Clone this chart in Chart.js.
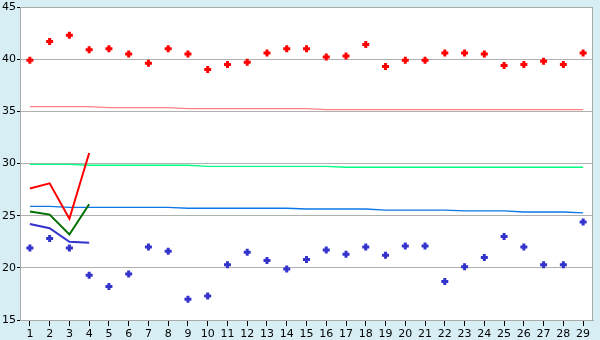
<!DOCTYPE html>
<html>
<head>
<meta charset="utf-8">
<script src="https://cdn.jsdelivr.net/npm/chart.js@4"></script>
<style>
  html, body { margin: 0; padding: 0; background: #d8eef5; }
  #wrap { width: 600px; height: 340px; }
</style>
</head>
<body>
<div id="wrap"><canvas id="chart" width="600" height="340"></canvas></div>
<script>
// categories
const days = ['1','2','3','4','5','6','7','8','9','10','11','12','13','14','15',
  '16','17','18','19','20','21','22','23','24','25','26','27','28','29'];

// daily highs / lows (markers)
const highs = [39.9, 41.7, 42.3, 40.9, 41.0, 40.5, 39.6, 41.0, 40.5, 39.0,
  39.5, 39.7, 40.6, 41.0, 41.0, 40.2, 40.3, 41.4, 39.3, 39.9,
  39.9, 40.6, 40.6, 40.5, 39.4, 39.5, 39.8, 39.5, 40.6];
const lows = [21.9, 22.8, 21.9, 19.3, 18.2, 19.4, 22.0, 21.6, 17.0, 17.3,
  20.3, 21.5, 20.7, 19.9, 20.8, 21.7, 21.3, 22.0, 21.2, 22.1,
  22.1, 18.7, 20.1, 21.0, 23.0, 22.0, 20.3, 20.3, 24.4];

// short lines, first four days only
const redLine = [27.6, 28.1, 24.7, 31.0];
const greenLine = [25.4, 25.1, 23.2, 26.1];
const blueLine = [24.2, 23.8, 22.5, 22.4];

// long flat reference lines
const pinkRef = [35.45, 35.45, 35.45, 35.45, 35.35, 35.35, 35.35, 35.35, 35.26, 35.26,
  35.26, 35.26, 35.26, 35.26, 35.26, 35.16, 35.16, 35.16, 35.16, 35.16,
  35.16, 35.16, 35.16, 35.16, 35.16, 35.16, 35.16, 35.16, 35.16];
const greenRef = [29.92, 29.92, 29.92, 29.83, 29.83, 29.83, 29.83, 29.83, 29.83, 29.73,
  29.73, 29.73, 29.73, 29.73, 29.73, 29.73, 29.64, 29.64, 29.64, 29.64,
  29.64, 29.64, 29.64, 29.64, 29.64, 29.64, 29.64, 29.64, 29.64];
const blueRef = [25.89, 25.89, 25.79, 25.79, 25.79, 25.79, 25.79, 25.79, 25.71, 25.71,
  25.71, 25.71, 25.71, 25.71, 25.64, 25.64, 25.64, 25.64, 25.54, 25.54,
  25.54, 25.54, 25.45, 25.45, 25.45, 25.35, 25.35, 25.35, 25.26];

const yTicks = [15, 20, 25, 30, 35, 40, 45];

// white plot area with grey frame
const plotBg = {
  id: 'plotBg',
  beforeDraw(chart) {
    const { ctx, chartArea: a } = chart;
    ctx.save();
    ctx.fillStyle = '#ffffff';
    ctx.fillRect(a.left, a.top, a.right - a.left, a.bottom - a.top);
    ctx.restore();
  },
  afterDatasetsDraw(chart) {
    const { ctx, chartArea: a } = chart;
    ctx.save();
    ctx.strokeStyle = '#aaaaaa';
    ctx.lineWidth = 1;
    ctx.strokeRect(a.left + 0.5, a.top + 0.5, a.right - a.left - 1, a.bottom - a.top);
    ctx.restore();
  },
};

const pad = (arr) => days.map((d, i) => (i < arr.length ? arr[i] : null));

const markerSet = (data, color) => ({
  data,
  showLine: false,
  pointStyle: 'cross',
  pointRadius: 3.5,
  pointBorderWidth: 3,
  pointBorderColor: color,
  pointBackgroundColor: color,
  borderColor: color,
});

const lineSet = (data, color, width) => ({
  data,
  borderColor: color,
  borderWidth: width,
  pointRadius: 0,
  tension: 0,
  fill: false,
  spanGaps: false,
});

new Chart(document.getElementById('chart'), {
  type: 'line',
  data: {
    labels: days,
    datasets: [
      markerSet(highs, '#ff0000'),
      markerSet(lows, '#3333cc'),
      lineSet(pad(redLine), '#ff0000', 2),
      lineSet(pad(greenLine), '#007000', 2),
      lineSet(pad(blueLine), '#3333cc', 2),
      lineSet(pinkRef, '#ff8080', 1.3),
      lineSet(greenRef, '#00ff80', 1.3),
      lineSet(blueRef, '#0a78e6', 1.3),
    ],
  },
  options: {
    responsive: false,
    animation: false,
    layout: { padding: { top: 0, right: 5, left: 0, bottom: 0 } },
    plugins: {
      legend: { display: false },
      tooltip: { enabled: false },
    },
    scales: {
      x: {
        offset: true,
        grid: { display: true, drawOnChartArea: false, drawTicks: true, tickLength: 6, tickColor: '#000000', offset: false },
        border: { color: '#aaaaaa' },
        ticks: { color: '#000000', font: { family: 'DejaVu Sans', size: 11 }, padding: 2, maxRotation: 0, autoSkip: false },
        afterFit: (s) => { s.height = 20; },
      },
      y: {
        min: 15,
        max: 45,
        afterBuildTicks: (s) => { s.ticks = yTicks.map(v => ({ value: v })); },
        grid: { color: '#b0b0b0', tickLength: 3, tickColor: '#000000' },
        border: { color: '#aaaaaa' },
        ticks: { color: '#000000', font: { family: 'DejaVu Sans', size: 11, lineHeight: 1 }, padding: 1 },
        afterFit: (s) => { s.width = 20; },
      },
    },
  },
  plugins: [plotBg],
});
</script>
</body>
</html>
